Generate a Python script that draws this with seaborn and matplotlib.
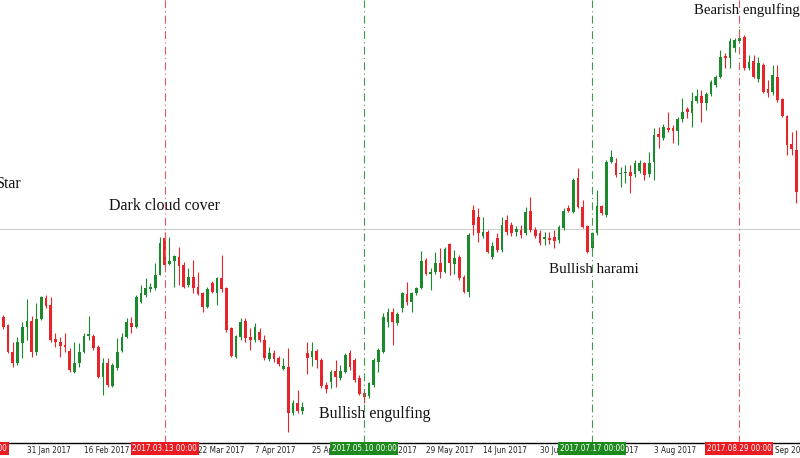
import numpy as np
import pandas as pd
import seaborn as sns
import matplotlib.pyplot as plt
from matplotlib.transforms import blended_transform_factory

# EUR/GBP daily candles (price in chart points), first candle 23 Jan 2017, weekdays only
start = '2017-01-23'
opens = [165, 143, 135, 108, 97, 117, 133, 139, 108, 141, 162, 155, 121, 118, 115, 109, 88, 97, 108, 124,
         124, 113, 83, 97, 74, 92, 109, 123, 137, 133, 158, 165, 171, 172, 185, 222, 196, 199, 203, 195,
         175, 183, 173, 167, 153, 177, 167, 182, 172, 132, 103, 123, 139, 123, 120, 128, 120, 101, 107, 102,
         91, 93, 47, 57, 49, 107, 103, 109, 100, 75, 78, 89, 82, 88, 107, 100, 82, 67, 64, 75,
         98, 108, 138, 148, 137, 152, 166, 158, 167, 172, 200, 186, 188, 197, 188, 216, 196, 203, 183, 168,
         250, 243, 224, 228, 203, 222, 210, 240, 235, 228, 230, 227, 249, 230, 227, 221, 222, 223, 220, 232,
         252, 248, 282, 253, 234, 212, 227, 254, 245, 298, 297, 286, 287, 288, 286, 289, 297, 286, 298, 326,
         322, 332, 332, 329, 341, 351, 347, 359, 364, 357, 366, 375, 383, 404, 402, 412, 419, 423, 392, 399,
         381, 395, 371, 368, 383, 361, 344, 316, 310]
highs = [169, 145, 136, 118, 123, 138, 161, 144, 157, 164, 165, 163, 127, 123, 127, 112, 118, 117, 127, 144,
         126, 115, 102, 102, 97, 122, 127, 142, 143, 165, 175, 182, 177, 197, 223, 228, 223, 205, 213, 198,
         192, 200, 188, 168, 173, 179, 183, 205, 173, 133, 125, 142, 142, 132, 137, 132, 125, 113, 110, 104,
         102, 112, 60, 70, 58, 118, 118, 111, 102, 78, 90, 100, 95, 107, 110, 102, 85, 70, 78, 102,
         112, 147, 152, 152, 148, 168, 178, 168, 173, 209, 202, 192, 208, 212, 213, 217, 210, 205, 185, 227,
         255, 252, 243, 230, 218, 227, 243, 245, 238, 234, 235, 253, 263, 233, 230, 228, 228, 230, 235, 252,
         255, 282, 292, 260, 235, 228, 270, 255, 300, 310, 302, 293, 295, 295, 300, 300, 298, 308, 332, 333,
         336, 348, 335, 343, 362, 353, 368, 371, 370, 368, 380, 385, 410, 407, 422, 422, 431, 425, 405, 405,
         403, 397, 380, 395, 395, 362, 345, 328, 330]
lows = [142, 131, 107, 93, 95, 102, 120, 103, 105, 140, 152, 118, 113, 103, 108, 88, 87, 93, 107, 120,
        110, 82, 65, 73, 73, 90, 108, 122, 127, 132, 157, 163, 168, 170, 185, 193, 195, 173, 175, 172,
        173, 167, 165, 148, 152, 167, 155, 168, 128, 103, 102, 120, 118, 110, 118, 118, 100, 99, 98, 94,
        90, 28, 45, 47, 46, 86, 94, 92, 72, 67, 72, 73, 80, 87, 90, 78, 65, 57, 62, 73,
        88, 107, 133, 115, 135, 148, 155, 148, 165, 171, 185, 170, 186, 182, 187, 185, 186, 180, 167, 163,
        225, 218, 222, 207, 201, 208, 208, 225, 224, 224, 222, 225, 228, 222, 215, 215, 216, 212, 217, 230,
        248, 247, 252, 232, 207, 210, 225, 245, 243, 297, 283, 273, 277, 267, 283, 287, 280, 283, 280, 312,
        320, 328, 317, 315, 338, 342, 333, 357, 338, 350, 364, 373, 382, 392, 392, 408, 417, 390, 390, 382,
        378, 367, 363, 365, 358, 343, 305, 305, 257]
closes = [143, 133, 108, 97, 118, 133, 139, 108, 141, 163, 154, 120, 118, 114, 113, 90, 97, 108, 124, 126,
          112, 83, 97, 75, 95, 108, 123, 138, 133, 163, 167, 172, 173, 185, 217, 195, 199, 204, 194, 173,
          183, 172, 166, 153, 171, 168, 182, 171, 130, 104, 124, 138, 122, 120, 133, 120, 102, 107, 101, 96,
          94, 47, 57, 49, 53, 102, 109, 100, 74, 71, 88, 83, 89, 105, 93, 80, 66, 63, 77, 100,
          110, 143, 148, 138, 146, 167, 158, 167, 172, 199, 186, 188, 197, 188, 211, 197, 202, 182, 168, 225,
          235, 227, 228, 208, 214, 210, 235, 228, 227, 231, 225, 248, 230, 224, 217, 223, 220, 219, 233, 249,
          249, 280, 253, 233, 208, 227, 254, 247, 298, 303, 285, 287, 288, 284, 297, 297, 285, 297, 325, 323,
          333, 330, 329, 341, 348, 348, 359, 364, 357, 366, 378, 383, 403, 402, 419, 420, 422, 392, 398, 383,
          397, 368, 367, 385, 360, 344, 315, 311, 268]

# candlestick pattern markers (date, label colour) and their captions
marker_dates = ['2017-01-16', '2017-03-13', '2017-05-10', '2017-07-17', '2017-08-29']
marker_kinds = ['bear', 'bear', 'bull', 'bull', 'bear']
pattern_names = ['Star', 'Dark cloud cover', 'Bullish engulfing', 'Bullish harami', 'Bearish engulfing']
level_price = 231

GREEN = '#1c8a2c'
RED = '#e6252b'
LINE_COLORS = {'bull': '#3d9b4a', 'bear': '#e25a5e'}
BOX_COLORS = {'bull': '#1e8a1e', 'bear': '#ea1c22'}

sns.set_theme(style='white')
plt.rcParams['font.family'] = ['DejaVu Sans']
axis_font = dict(family='DejaVu Sans', fontsize=5.9, fontstretch='condensed')

df = pd.DataFrame({'open': opens, 'high': highs, 'low': lows, 'close': closes},
                  index=pd.bdate_range(start, periods=len(opens)))
df['pos'] = np.arange(len(df))
df['up'] = df['close'] >= df['open']
t0 = np.datetime64(start)


def bpos(d):
    return np.busday_count(t0, np.datetime64(pd.Timestamp(d).date()))


fig = plt.figure(figsize=(8, 4.58), dpi=100)
ax = fig.add_axes([0, 15 / 458, 1, 443 / 458])

colors = np.where(df['up'], GREEN, RED)
ax.vlines(df['pos'], df['low'], df['high'], colors=colors, linewidth=0.8, zorder=2)
ax.bar(df['pos'], (df['close'] - df['open']).abs().clip(lower=1.2),
       bottom=df[['open', 'close']].min(axis=1), width=0.62, color=colors, linewidth=0, zorder=3)

ax.axhline(level_price, color='#cfcfcf', linewidth=0.8, zorder=1)

for d, kind in zip(marker_dates, marker_kinds):
    ax.axvline(bpos(d), color=LINE_COLORS[kind], linewidth=0.8,
               linestyle=(0, (7, 3, 1, 3)), zorder=4)

# time axis
tick_dates = pd.bdate_range('2017-01-13', '2017-09-30', freq='12B')
ax.set_xticks([bpos(d) for d in tick_dates])
ax.set_xticklabels([f'{d.day} {d:%b %Y}' for d in tick_dates], ha='left',
                   color='#222222', **axis_font)
ax.tick_params(axis='x', direction='in', length=3, width=0.8, pad=2.2, color='black')
ax.set_yticks([])
for side in ['left', 'right', 'top']:
    ax.spines[side].set_visible(False)
ax.spines['bottom'].set_color('black')
ax.spines['bottom'].set_linewidth(1)

# limits after the ticks, so the off-screen ticks do not widen the view
ax.set_xlim(0.32, 168.74)
ax.set_ylim(17, 460)

# pattern captions
serif = dict(family='Liberation Serif', color='#111111', va='baseline')
ax.text(4.95, 272, pattern_names[0], ha='right', fontsize=11.5, **serif)
ax.text(35.05, 250, pattern_names[1], ha='center', fontsize=11.5, **serif)
ax.text(79.2, 42, pattern_names[2], ha='center', fontsize=11.5, **serif)
ax.text(125.4, 187, pattern_names[3], ha='center', fontsize=10.9, **serif)
ax.text(157.5, 446, pattern_names[4], ha='center', fontsize=10.6, **serif)

trans = blended_transform_factory(ax.transData, ax.transAxes)
for d, kind in zip(marker_dates, marker_kinds):
    ax.text(bpos(d), -0.0125, pd.Timestamp(d).strftime('%Y.%m.%d %H:%M'), transform=trans,
            ha='center', va='center', color='white', clip_on=False, zorder=6,
            bbox=dict(boxstyle='square,pad=0.2', fc=BOX_COLORS[kind], ec='none'), **axis_font)

fig.savefig('out.png', dpi=100, facecolor='white')
